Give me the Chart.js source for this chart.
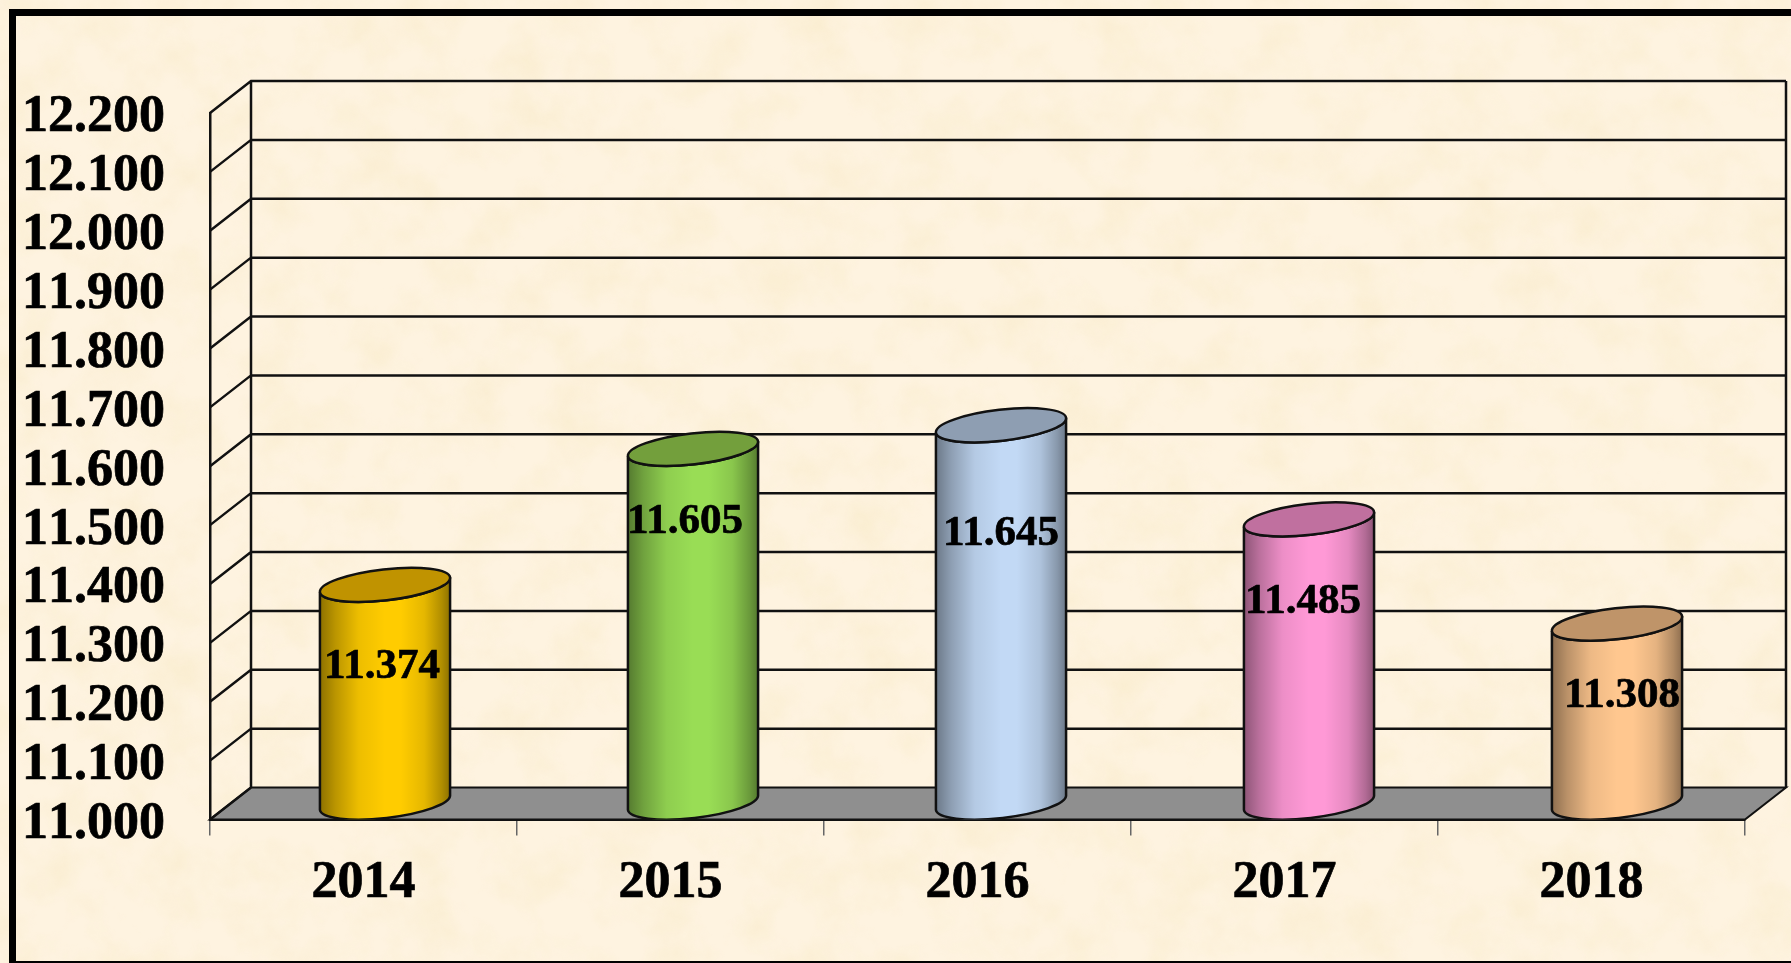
<!DOCTYPE html>
<html>
<head>
<meta charset="utf-8">
<title>2014-2018</title>
<script src="https://cdn.jsdelivr.net/npm/chart.js@4/dist/chart.umd.min.js"></script>
<style>
html, body { margin: 0; padding: 0; width: 1791px; height: 963px; overflow: hidden; }
body {
  background-color: #fef3e0;
  background-image: url("data:image/svg+xml,%3Csvg xmlns='http://www.w3.org/2000/svg' width='1791' height='963'%3E%3Cfilter id='p' x='0' y='0' width='100%25' height='100%25'%3E%3CfeTurbulence type='fractalNoise' baseFrequency='0.02' numOctaves='4' seed='7'/%3E%3CfeColorMatrix values='0 0 0 0 0.88 0 0 0 0 0.74 0 0 0 0 0.4 0.5 0 0 0 -0.2'/%3E%3C/filter%3E%3Crect width='1791' height='963' filter='url(%23p)'/%3E%3C/svg%3E");
}
#frame { position: absolute; left: 9px; top: 9px; width: 1800px; height: 945px; border: solid #000; border-width: 7px 0 2px 7px; }
#c { position: absolute; left: 0; top: 0; }
</style>
</head>
<body>
<div id="frame"></div>
<canvas id="c" width="1791" height="963"></canvas>
<script>
var years = ['2014', '2015', '2016', '2017', '2018'];
var values = [11374, 11605, 11645, 11485, 11308];
var axisMin = 11000;
var axisMax = 12200;
var axisStep = 100;

var bodyColors = ['#ffcc00', '#99dd55', '#c2d9f5', '#ff99d6', '#ffc78f'];
var capColors = ['#c09300', '#739f3c', '#8e9eb2', '#c0709f', '#bf9469'];

// the original's cylinders drift a little right of their categories
var barNudgeX = [1, 2, 3, 4, 5];
// label positions were moved by hand in the original, so they are nudged here too
var labelNudgeX = [-3, -8, 0, -6, 5];
var labelNudgeY = [84, 75, 110, 84, 74];

var depthX = 41, depthY = -32;   // back wall offset
var tilt = -6.5 * Math.PI / 180;
var capRy = 15.5;
var topDrop = 1.5, baseDrop = -1;
var shade = [[0, 0.45], [0.12, 0.27], [0.3, 0.07], [0.5, 0], [0.62, 0], [0.8, 0.1], [0.93, 0.3], [1, 0.45]];

function fmt(v) {
  return (v / 1000).toFixed(3);
}

// cylinders instead of flat bars, standing half way into the floor
Chart.BarElement.prototype.draw = function (ctx) {
  var i = this.$context.dataIndex;
  var x = this.x + depthX / 2 + barNudgeX[i];
  var top = this.y + depthY / 2 + topDrop;
  var base = this.base + depthY / 2 + baseDrop;
  var rx = this.width / 2;
  var sx = rx * Math.cos(tilt), sy = rx * Math.sin(tilt);

  var g = ctx.createLinearGradient(x - rx, 0, x + rx, 0);
  shade.forEach(function (s) {
    g.addColorStop(s[0], 'rgba(0,0,0,' + s[1] + ')');
  });

  ctx.save();
  ctx.lineWidth = 2.5;
  ctx.strokeStyle = '#111';
  ctx.beginPath();
  ctx.ellipse(x, base, rx, capRy, tilt, Math.PI, 0, true);
  ctx.lineTo(x + sx, top + sy);
  ctx.ellipse(x, top, rx, capRy, tilt, 0, Math.PI, false);
  ctx.closePath();
  ctx.fillStyle = bodyColors[i];
  ctx.fill();
  ctx.fillStyle = g;
  ctx.fill();
  ctx.stroke();

  ctx.beginPath();
  ctx.ellipse(x, top, rx, capRy, tilt, 0, Math.PI * 2);
  ctx.fillStyle = capColors[i];
  ctx.fill();
  ctx.stroke();
  ctx.restore();
};

var wallsPlugin = {
  id: 'walls',
  beforeDatasetsDraw: function (chart) {
    var ctx = chart.ctx;
    var a = chart.chartArea;
    var y = chart.scales.y;
    ctx.save();
    // floor
    ctx.beginPath();
    ctx.moveTo(a.left, a.bottom);
    ctx.lineTo(a.right, a.bottom);
    ctx.lineTo(a.right + depthX, a.bottom + depthY);
    ctx.lineTo(a.left + depthX, a.bottom + depthY);
    ctx.closePath();
    ctx.fillStyle = '#8f8f8f';
    ctx.fill();
    ctx.lineWidth = 2;
    ctx.strokeStyle = '#111';
    ctx.stroke();
    // side wall slants + back wall lines
    ctx.lineWidth = 2.5;
    ctx.beginPath();
    y.ticks.forEach(function (t) {
      var py = y.getPixelForValue(t.value);
      ctx.moveTo(a.left, py);
      ctx.lineTo(a.left + depthX, py + depthY);
      if (t.value > axisMin) ctx.lineTo(a.right + depthX, py + depthY);
    });
    ctx.moveTo(a.left + depthX, a.top + depthY);
    ctx.lineTo(a.left + depthX, a.bottom + depthY);
    ctx.moveTo(a.right + depthX, a.top + depthY);
    ctx.lineTo(a.right + depthX, a.bottom + depthY);
    ctx.stroke();
    ctx.restore();
  },
  afterDatasetsDraw: function (chart) {
    var ctx = chart.ctx;
    var meta = chart.getDatasetMeta(0);
    ctx.save();
    ctx.font = 'bold 43px "Liberation Serif"';
    ctx.fillStyle = '#000';
    ctx.strokeStyle = '#000';
    ctx.lineWidth = 0.7;
    ctx.textAlign = 'center';
    ctx.textBaseline = 'middle';
    meta.data.forEach(function (bar, i) {
      var lx = bar.x + depthX / 2 + barNudgeX[i] + labelNudgeX[i];
      var ly = bar.y + depthY / 2 + labelNudgeY[i];
      ctx.fillText(fmt(values[i]), lx, ly);
      ctx.strokeText(fmt(values[i]), lx, ly);
    });
    ctx.restore();
  }
};

new Chart(document.getElementById('c').getContext('2d'), {
  type: 'bar',
  data: {
    labels: years,
    datasets: [{
      data: values,
      base: axisMin,
      backgroundColor: bodyColors,
      barPercentage: 0.4267,
      categoryPercentage: 1
    }]
  },
  plugins: [wallsPlugin],
  options: {
    responsive: false,
    animation: false,
    events: [],
    layout: { padding: { left: 0, top: 113, right: 46, bottom: 0 } },
    plugins: { legend: { display: false }, tooltip: { enabled: false }, title: { display: false } },
    scales: {
      x: {
        afterFit: function (s) { s.height = 143.5; },
        border: { display: true, color: '#111', width: 3 },
        grid: { drawOnChartArea: false, color: '#666', lineWidth: 1.5, tickLength: 16 },
        ticks: {
          color: '#000',
          padding: 17,
          maxRotation: 0,
          textStrokeColor: '#000',
          textStrokeWidth: 0.7,
          font: { family: '"Liberation Serif"', size: 52, weight: 'bold' }
        }
      },
      y: {
        min: axisMin,
        max: axisMax,
        afterFit: function (s) {
          s.width = 210;
          // tick text sits a bit low and unkerned in the original
          if (!s.shiftedLabels) {
            s.shiftedLabels = true;
            var drawLabels = s.drawLabels;
            s.drawLabels = function (area) {
              this.ctx.save();
              this.ctx.fontKerning = 'none';
              this.ctx.translate(0, 5);
              drawLabels.call(this, area);
              this.ctx.restore();
            };
          }
        },
        border: { display: true, color: '#111', width: 2.5 },
        grid: { display: false, drawTicks: false },
        ticks: {
          stepSize: axisStep,
          autoSkip: false,
          color: '#000',
          padding: 45,
          textStrokeColor: '#000',
          textStrokeWidth: 0.7,
          callback: function (v) { return fmt(v); },
          font: { family: '"Liberation Serif"', size: 52, weight: 'bold' }
        }
      }
    }
  }
});
</script>
</body>
</html>
